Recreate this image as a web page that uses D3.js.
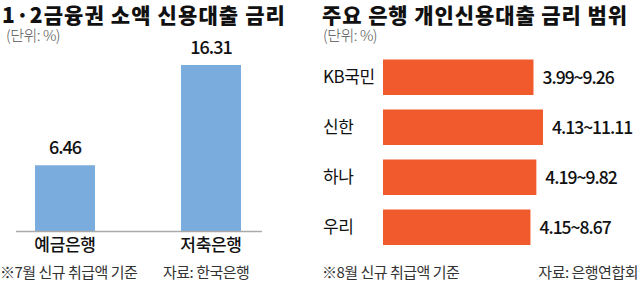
<!DOCTYPE html>
<html>
<head>
<meta charset="utf-8">
<script src="https://cdn.jsdelivr.net/npm/d3@7"></script>
<style>
  body { margin: 0; background: #fff; }
  svg text { font-family: "Noto Sans CJK KR", "Noto Sans", sans-serif; }
</style>
</head>
<body>
<div id="chart"></div>
<script>
// 왼쪽: 1·2금융권 소액 신용대출 금리
const categorias = ["예금은행", "저축은행"]
const tasas = [6.46, 16.31]

// 오른쪽: 주요 은행 개인신용대출 금리 범위
const bancos = ["KB국민", "신한", "하나", "우리"]
const tasaMin = [3.99, 4.13, 4.19, 4.15]
const tasaMax = [9.26, 11.11, 9.82, 8.67]

const ancho = 640
const alto = 282

const svg = d3.select("#chart").append("svg")
    .attr("width", ancho).attr("height", alto)

// ---------- panel izquierdo ----------
const izq = svg.append("g").attr("id", "izq")

izq.append("text").attr("x", 2).attr("y", 23)
    .attr("font-size", 21).attr("font-weight", 900).attr("fill", "#111")
    .attr("letter-spacing", 1.1)
    .text("1·2금융권 소액 신용대출 금리")
izq.append("text").attr("x", 6).attr("y", 41)
    .attr("font-size", 15).attr("fill", "#555").attr("font-weight", 300)
    .attr("letter-spacing", -0.5)
    .text("(단위: %)")

var x = d3.scaleBand().domain(categorias).range([35, 241]).paddingInner(0.589).paddingOuter(0)
var y = d3.scaleLinear().domain([0, 16.31]).range([231, 65])

izq.selectAll("rect").data(tasas).enter().append("rect")
    .attr("x", (d, i) => x(categorias[i]))
    .attr("y", d => y(d))
    .attr("width", x.bandwidth())
    .attr("height", d => y(0) - y(d))
    .attr("fill", "#7aacdd")

izq.selectAll(".valor").data(tasas).enter().append("text")
    .attr("class", "valor")
    .attr("x", (d, i) => x(categorias[i]) + x.bandwidth() / 2)
    .attr("y", d => y(d) - 11)
    .attr("text-anchor", "middle").attr("font-size", 18).attr("letter-spacing", -1)
    .attr("font-weight", 500).attr("fill", "#111")
    .text(d => d.toFixed(2))

izq.append("line").attr("x1", 16).attr("x2", 262).attr("y1", y(0) + 0.5).attr("y2", y(0) + 0.5)
    .attr("stroke", "#aaa").attr("stroke-width", 1.5)

const ejeX = d3.axisBottom(x).tickSize(0).tickPadding(8)
const grupoX = izq.append("g").attr("transform", `translate(0, ${y(0)})`).call(ejeX)
grupoX.select(".domain").remove()
grupoX.selectAll("text").attr("font-size", 17).attr("fill", "#111").attr("font-weight", 500)
    .attr("letter-spacing", -0.3)

izq.append("text").attr("x", 0).attr("y", 278)
    .attr("font-size", 15).attr("fill", "#333").attr("letter-spacing", -0.5)
    .text("※7월 신규 취급액 기준")
izq.append("text").attr("x", 163).attr("y", 278)
    .attr("font-size", 15).attr("fill", "#333").attr("letter-spacing", -0.5)
    .text("자료: 한국은행")

// ---------- panel derecho ----------
const der = svg.append("g").attr("id", "der")

der.append("text").attr("x", 322).attr("y", 23)
    .attr("font-size", 21).attr("font-weight", 900).attr("fill", "#111")
    .attr("letter-spacing", 0.9)
    .text("주요 은행 개인신용대출 금리 범위")
der.append("text").attr("x", 323).attr("y", 41)
    .attr("font-size", 15).attr("fill", "#555").attr("font-weight", 300)
    .attr("letter-spacing", -0.5)
    .text("(단위: %)")

var yB = d3.scaleBand().domain(bancos).range([50.5, 254]).paddingInner(0.29).paddingOuter(0.18)
// la barra arranca en 383; escala desplazada para que el largo siga el tope del rango
var xB = d3.scaleLinear().domain([-20, 11.11]).range([383, 543])

der.selectAll("rect").data(tasaMax).enter().append("rect")
    .attr("x", xB(-20))
    .attr("y", (d, i) => yB(bancos[i]))
    .attr("width", d => xB(d) - xB(-20))
    .attr("height", yB.bandwidth())
    .attr("fill", "#f15a2c")

der.selectAll(".rango").data(tasaMax).enter().append("text")
    .attr("class", "rango")
    .attr("x", d => xB(d) + 9)
    .attr("y", (d, i) => yB(bancos[i]) + yB.bandwidth() / 2)
    .attr("dy", "0.36em")
    .attr("font-size", 17.5).attr("letter-spacing", -1).attr("font-weight", 500).attr("fill", "#111")
    .text((d, i) => tasaMin[i].toFixed(2) + "~" + d.toFixed(2))

const ejeY = d3.axisLeft(yB).tickSize(0).tickPadding(0)
const grupoY = der.append("g").attr("transform", "translate(323, 0)").call(ejeY)
grupoY.select(".domain").remove()
grupoY.selectAll("text").attr("text-anchor", "start").attr("font-size", 17)
    .attr("fill", "#111").attr("letter-spacing", -0.4)

der.append("text").attr("x", 322).attr("y", 278)
    .attr("font-size", 15).attr("fill", "#333").attr("letter-spacing", -0.5)
    .text("※8월 신규 취급액 기준")
der.append("text").attr("x", 638).attr("y", 278).attr("text-anchor", "end")
    .attr("font-size", 15).attr("fill", "#333").attr("letter-spacing", -0.5)
    .text("자료: 은행연합회")
</script>
</body>
</html>
